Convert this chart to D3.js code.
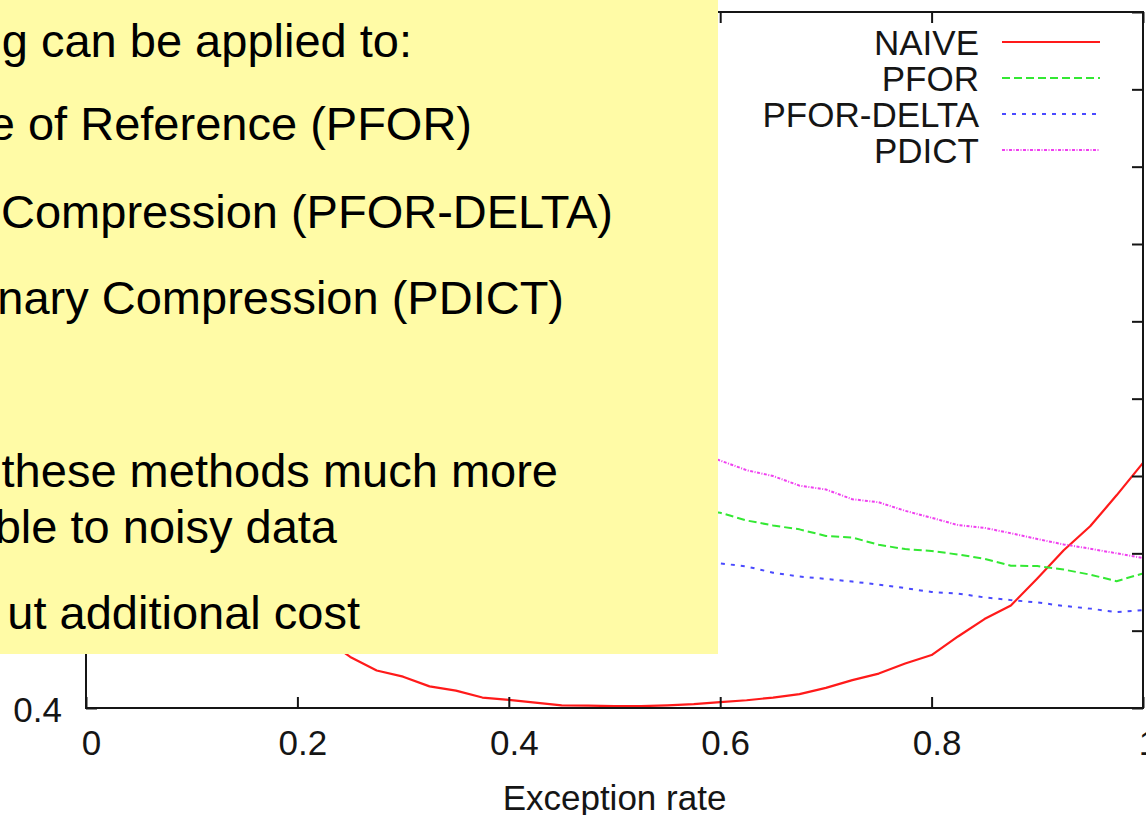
<!DOCTYPE html>
<html>
<head>
<meta charset="utf-8">
<script src="https://cdn.jsdelivr.net/npm/d3@7"></script>
<style>
  html, body { margin: 0; padding: 0; background: #ffffff; }
  svg { display: block; }
  text { font-family: "Liberation Sans", Arial, Helvetica, sans-serif; }
</style>
</head>
<body>
<svg id="chart" width="1146" height="815"></svg>
<script>
// Exception rate sampled every 0.025
const exceptionRate = d3.range(0, 41).map(i => +(i * 0.025).toFixed(3));

const naive = [
  1.60, 1.45, 1.30, 1.17, 1.05, 0.94, 0.84, 0.75, 0.64, 0.58,
  0.532, 0.497, 0.481, 0.456, 0.445, 0.427, 0.421, 0.414, 0.407, 0.406,
  0.405, 0.405, 0.407, 0.410, 0.415, 0.420, 0.427, 0.436, 0.452, 0.472,
  0.489, 0.515, 0.537, 0.585, 0.630, 0.665, 0.735, 0.808, 0.870, 0.950,
  1.034
];
const pfor = [
  1.160, 1.150, 1.140, 1.130, 1.115, 1.105, 1.090, 1.080, 1.070, 1.055,
  1.045, 1.030, 1.020, 1.005, 0.995, 0.985, 0.970, 0.960, 0.950, 0.940,
  0.935, 0.925, 0.918, 0.912, 0.905, 0.885, 0.872, 0.862, 0.845, 0.841,
  0.822, 0.811, 0.806, 0.797, 0.786, 0.768, 0.767, 0.758, 0.745, 0.728,
  0.748
];
const pforDelta = [
  0.980, 0.975, 0.965, 0.958, 0.950, 0.940, 0.930, 0.922, 0.912, 0.905,
  0.895, 0.885, 0.878, 0.868, 0.860, 0.850, 0.842, 0.833, 0.824, 0.815,
  0.805, 0.797, 0.789, 0.781, 0.774, 0.766, 0.750, 0.740, 0.734, 0.727,
  0.719, 0.710, 0.700, 0.696, 0.686, 0.679, 0.673, 0.664, 0.657, 0.648,
  0.653
];
const pdict = [
  1.450, 1.430, 1.415, 1.400, 1.380, 1.365, 1.350, 1.330, 1.315, 1.300,
  1.280, 1.265, 1.250, 1.230, 1.215, 1.200, 1.180, 1.165, 1.150, 1.130,
  1.115, 1.100, 1.085, 1.065, 1.040, 1.015, 1.000, 0.975, 0.965, 0.940,
  0.932, 0.910, 0.892, 0.873, 0.866, 0.852, 0.837, 0.823, 0.812, 0.800,
  0.788
];

const seriesNames = ["NAIVE", "PFOR", "PFOR-DELTA", "PDICT"];
const seriesValues = [naive, pfor, pforDelta, pdict];
const seriesColors = ["#ff1a1a", "#33e833", "#4a4aff", "#f040f0"];
const seriesDash = [null, "8,4", "4,6", "3,1.5,1,1.5"];

const xTicks = [0, 0.2, 0.4, 0.6, 0.8, 1];
const yTicks = [0.4, 0.6, 0.8, 1.0, 1.2, 1.4, 1.6, 1.8, 2.0, 2.2];
const yLabelled = [0.4];

const xLabel = "Exception rate";

const noteLines = [
  "g can be applied to:",
  "e of Reference (PFOR)",
  "Compression (PFOR-DELTA)",
  "nary Compression (PDICT)",
  "these methods much more",
  "ble to noisy data",
  "ut additional cost"
];

// ---- layout ----
const svg = d3.select("#chart");
const plot = { left: 86, right: 1143, top: 12, bottom: 708 };

const x = d3.scaleLinear().domain([0, 1]).range([plot.left, plot.right]);
const y = d3.scaleLinear().domain([0.4, 2.2]).range([plot.bottom, plot.top]);

const fontSize = 35;
const ink = "#151515";

svg.append("defs").append("clipPath").attr("id", "plotClip")
  .append("rect")
  .attr("x", plot.left).attr("y", plot.top)
  .attr("width", plot.right - plot.left).attr("height", plot.bottom - plot.top);

// series
const line = d3.line()
  .x((d, i) => x(exceptionRate[i]))
  .y(d => y(d));

const linesG = svg.append("g").attr("clip-path", "url(#plotClip)");
seriesValues.forEach((vals, k) => {
  linesG.append("path")
    .datum(vals)
    .attr("d", line)
    .attr("fill", "none")
    .attr("stroke", seriesColors[k])
    .attr("stroke-width", k === 0 ? 2.2 : 2)
    .attr("stroke-dasharray", seriesDash[k])
    .attr("stroke-linejoin", "round");
});

// axes (gnuplot style: inward ticks on all four sides)
function styleAxis(g) {
  g.selectAll(".domain").remove();
  g.selectAll(".tick line").attr("stroke", ink).attr("stroke-width", 2);
  g.selectAll(".tick text")
    .attr("fill", ink)
    .style("font-size", fontSize + "px")
    .style("font-family", "'Liberation Sans', Arial, sans-serif");
}

const xAxisG = svg.append("g")
  .attr("transform", `translate(0,${plot.bottom})`)
  .call(d3.axisBottom(x).tickValues(xTicks).tickSize(-11).tickPadding(22)
    .tickFormat(d => d3.format("~g")(d)))
  .call(styleAxis);
// gnuplot places its tick numbers a little right of the tick
xAxisG.selectAll(".tick text").attr("dx", 5);

svg.append("g")
  .attr("transform", `translate(0,${plot.top})`)
  .call(d3.axisTop(x).tickValues(xTicks).tickSize(-11).tickFormat(""))
  .call(styleAxis);

const yAxisG = svg.append("g")
  .attr("transform", `translate(${plot.left},0)`)
  .call(d3.axisLeft(y).tickValues(yTicks).tickSize(-11).tickPadding(24)
    .tickFormat(d => yLabelled.includes(d) ? d3.format(".1f")(d) : ""))
  .call(styleAxis);
yAxisG.selectAll(".tick text").attr("dy", "0.38em");

svg.append("g")
  .attr("transform", `translate(${plot.right},0)`)
  .call(d3.axisRight(y).tickValues(yTicks).tickSize(-11).tickFormat(""))
  .call(styleAxis);

// frame
svg.append("rect")
  .attr("x", plot.left).attr("y", plot.top)
  .attr("width", plot.right - plot.left).attr("height", plot.bottom - plot.top)
  .attr("fill", "none").attr("stroke", ink).attr("stroke-width", 2);

// axis title
svg.append("text")
  .attr("x", (plot.left + plot.right) / 2)
  .attr("y", 810)
  .attr("text-anchor", "middle")
  .attr("fill", ink)
  .style("font-size", fontSize + "px")
  .text(xLabel);

// legend
const legend = svg.append("g");
seriesNames.forEach((name, k) => {
  const cy = 42 + k * 36;
  legend.append("text")
    .attr("x", 979).attr("y", cy)
    .attr("dy", "0.36em")
    .attr("text-anchor", "end")
    .attr("fill", ink)
    .style("font-size", fontSize + "px")
    .text(name);
  legend.append("line")
    .attr("x1", 1002).attr("x2", 1100)
    .attr("y1", cy).attr("y2", cy)
    .attr("stroke", seriesColors[k])
    .attr("stroke-width", 2)
    .attr("stroke-dasharray", seriesDash[k]);
});

// yellow note panel laid over the plot
const note = svg.append("g");
note.append("rect")
  .attr("x", 0).attr("y", 0)
  .attr("width", 718).attr("height", 654)
  .attr("fill", "#fffba6");

const noteEnds = [412, 472, 613, 564, 558, 337, 360];
const noteBaselines = [57, 140, 228, 314, 487, 543, 629];
noteLines.forEach((t, i) => {
  note.append("text")
    .attr("x", noteEnds[i])
    .attr("y", noteBaselines[i])
    .attr("text-anchor", "end")
    .attr("fill", "#000")
    .style("font-size", "47px")
    .text(t);
});
</script>
</body>
</html>
